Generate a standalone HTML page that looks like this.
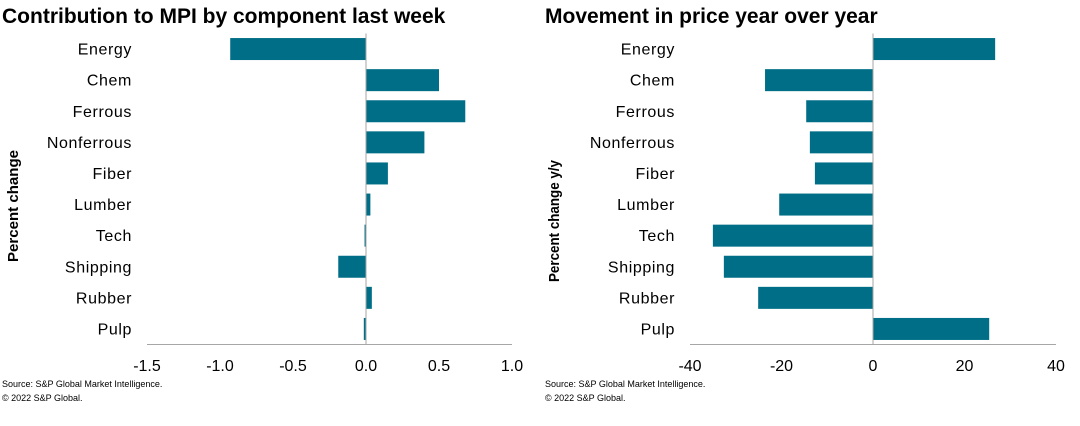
<!DOCTYPE html>
<html><head><meta charset="utf-8"><style>
body{margin:0;background:#fff;width:1080px;height:421px;overflow:hidden;font-family:"Liberation Sans",Arial,sans-serif}
</style></head><body>
<svg id="c" width="1080" height="421" xmlns="http://www.w3.org/2000/svg" font-family="Liberation Sans, Arial, sans-serif">
<text x="2" y="23" font-size="21" font-weight="bold">Contribution to MPI by component last week</text>
<text x="545" y="23" font-size="21" font-weight="bold">Movement in price year over year</text>
<text transform="translate(18,206) rotate(-90)" text-anchor="middle" font-size="15" font-weight="bold" textLength="112">Percent change</text>
<text transform="translate(559,221) rotate(-90)" text-anchor="middle" font-size="15" font-weight="bold" textLength="122" lengthAdjust="spacingAndGlyphs">Percent change y/y</text>
<text x="2" y="387" font-size="9">Source: S&amp;P Global Market Intelligence.</text>
<text x="2" y="401" font-size="9">© 2022 S&amp;P Global.</text>
<text x="545" y="387" font-size="9">Source: S&amp;P Global Market Intelligence.</text>
<text x="545" y="401" font-size="9">© 2022 S&amp;P Global.</text>
<g id="left"></g>
<g id="right"></g>
</svg>
<script>
const categories=["Energy","Chem","Ferrous","Nonferrous","Fiber","Lumber","Tech","Shipping","Rubber","Pulp"];
const leftValues=[-0.93,0.5,0.68,0.40,0.15,0.03,-0.01,-0.19,0.04,-0.015];
const leftTicks=[-1.5,-1.0,-0.5,0.0,0.5,1.0];
const leftTickLabels=["-1.5","-1.0","-0.5","0.0","0.5","1.0"];
const rightValues=[26.7,-23.6,-14.6,-13.8,-12.7,-20.5,-35,-32.6,-25.1,25.4];
const rightTicks=[-40,-20,0,20,40];
const rightTickLabels=["-40","-20","0","20","40"];
const NS="http://www.w3.org/2000/svg";
function mk(tag,attrs,parent){const e=document.createElementNS(NS,tag);for(const k in attrs)e.setAttribute(k,attrs[k]);parent.appendChild(e);return e;}
function draw(g,vals,ticks,labels,x0,x1,min,max,labelX,prefix){
  const top=33.5,bottom=344.5,band=(bottom-top)/categories.length;
  const xs=v=>x0+(v-min)/(max-min)*(x1-x0);
  const ys=i=>top+band*i+band/2;
  vals.forEach((v,i)=>{
    const a=xs(Math.min(0,v)),b=xs(Math.max(0,v));
    const r=mk('rect',{x:a,y:ys(i)-11,width:Math.max(b-a,1),height:22,fill:'#006e86'},g);
    
    
    const t=mk('text',{x:labelX,y:ys(i)+5.5,'text-anchor':'end','font-size':'16','letter-spacing':'0.6',fill:'#000'},g);
    t.textContent=categories[i];
    
    
  });
  const z=mk('line',{x1:xs(0),x2:xs(0),y1:top,y2:bottom,stroke:'#a6a6a6','stroke-width':1},g);
  
  
  const ax=mk('line',{x1:x0,x2:x1,y1:bottom,y2:bottom,stroke:'#a6a6a6','stroke-width':1},g);
  
  
  ticks.forEach((v,i)=>{
    const t=mk('text',{x:xs(v),y:371,'text-anchor':'middle','font-size':'16',fill:'#000'},g);
    t.textContent=labels[i];
    
    
  });
}
draw(document.getElementById('left'),leftValues,leftTicks,leftTickLabels,147,512,-1.5,1.0,132,'left');
draw(document.getElementById('right'),rightValues,rightTicks,rightTickLabels,690,1056,-40,40,675,'right');
</script>
</body></html>
